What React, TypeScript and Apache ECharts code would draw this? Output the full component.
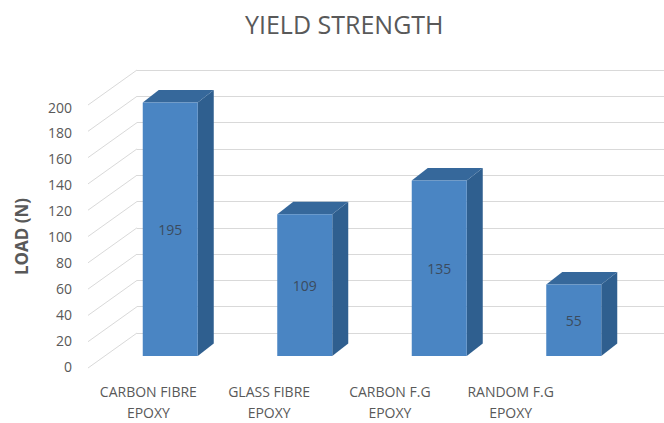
import React, { useEffect, useRef } from "react";
import * as echarts from "echarts";

const categories = ["CARBON FIBRE\nEPOXY", "GLASS FIBRE\nEPOXY", "CARBON F.G\nEPOXY", "RANDOM F.G\nEPOXY"];
const loads = [195, 109, 135, 55];
const yTicks = [0, 20, 40, 60, 80, 100, 120, 140, 160, 180, 200];

const FONT = "'Open Sans', 'Noto Sans', sans-serif";
const GRID_COLOR = "#d9d9d9";
const TEXT_COLOR = "#595959";

// depth of the side wall (front edge -> back wall)
const WALL_DX = 49;
const WALL_DY = -35;
// depth of each 3D bar
const BAR_DX = 16;
const BAR_DY = -12.5;
const BAR_W = 55;

export default function App() {
  const ref = useRef<HTMLDivElement>(null);

  useEffect(() => {
    if (!ref.current) return;
    const chart = echarts.init(ref.current, undefined, { renderer: "svg" });

    const option: echarts.EChartsOption = {
      animation: false,
      backgroundColor: "#ffffff",
      title: {
        text: "YIELD STRENGTH",
        left: 240,
        top: 6,
        textStyle: { fontFamily: FONT, fontSize: 25, fontWeight: "normal", color: TEXT_COLOR },
      },
      grid: [
        // front edge: tick labels and category labels
        { left: 88, width: 483, top: 107, height: 259 },
        // back wall
        { left: 137, right: 0, top: 70, height: 263 },
        // bar plane
        { left: 103, width: 538, top: 96, height: 260 },
      ],
      xAxis: [
        {
          gridIndex: 0,
          type: "category",
          data: categories,
          axisLine: { show: false },
          axisTick: { show: false },
          axisLabel: {
            interval: 0,
            hideOverlap: false,
            margin: 15,
            fontFamily: FONT,
            fontSize: 14,
            lineHeight: 21,
            color: TEXT_COLOR,
          },
        },
        { gridIndex: 1, type: "value", show: false, min: 0, max: 1 },
        { gridIndex: 2, type: "category", data: categories, show: false },
      ],
      yAxis: [
        {
          gridIndex: 0,
          type: "value",
          min: 0,
          max: 200,
          interval: 20,
          name: "LOAD (N)",
          nameLocation: "middle",
          nameGap: 58,
          nameTextStyle: { fontFamily: FONT, fontSize: 17, fontWeight: "bold", color: TEXT_COLOR },
          axisLine: { show: false },
          axisTick: { show: false },
          splitLine: { show: false },
          axisLabel: { margin: 16, fontFamily: FONT, fontSize: 14, color: TEXT_COLOR },
        },
        {
          gridIndex: 1,
          type: "value",
          min: 0,
          max: 200,
          interval: 20,
          axisLine: { show: false },
          axisTick: { show: false },
          axisLabel: { show: false },
          splitLine: { lineStyle: { color: GRID_COLOR, width: 1 } },
        },
        { gridIndex: 2, type: "value", min: 0, max: 200, show: false },
      ],
      series: [
        {
          // side wall diagonals, one per tick
          type: "custom",
          xAxisIndex: 1,
          yAxisIndex: 1,
          silent: true,
          data: yTicks.map((t) => [0, t]),
          renderItem: (params: any, api: any) => {
            const p = api.coord([0, api.value(1)]);
            const x1 = params.coordSys.x;
            return {
              type: "line",
              shape: { x1: x1 - WALL_DX, y1: p[1] - WALL_DY, x2: x1, y2: p[1] },
              style: { stroke: GRID_COLOR, lineWidth: 1 },
            };
          },
        },
        {
          // 3D bars
          type: "custom",
          xAxisIndex: 2,
          yAxisIndex: 2,
          data: loads.map((v, i) => [i, v]),
          renderItem: (_params: any, api: any) => {
            const top = api.coord([api.value(0), api.value(1)]);
            const base = api.coord([api.value(0), 0]);
            const x0 = top[0] - BAR_W / 2;
            const x1 = top[0] + BAR_W / 2;
            const yt = top[1];
            const yb = base[1];
            return {
              type: "group",
              children: [
                {
                  type: "polygon",
                  shape: {
                    points: [
                      [x1, yt],
                      [x1 + BAR_DX, yt + BAR_DY],
                      [x1 + BAR_DX, yb + BAR_DY],
                      [x1, yb],
                    ],
                  },
                  style: { fill: "#2f5f8f" },
                },
                {
                  type: "polygon",
                  shape: {
                    points: [
                      [x0, yt],
                      [x0 + BAR_DX, yt + BAR_DY],
                      [x1 + BAR_DX, yt + BAR_DY],
                      [x1, yt],
                    ],
                  },
                  style: { fill: "#36689b" },
                },
                {
                  type: "rect",
                  shape: { x: x0, y: yt, width: BAR_W, height: yb - yt },
                  style: { fill: "#4a85c3" },
                },
                {
                  type: "text",
                  x: top[0],
                  y: (yt + yb) / 2,
                  style: {
                    text: String(api.value(1)),
                    fill: "#3b4b5e",
                    fontFamily: FONT,
                    fontSize: 14,
                    align: "center",
                    verticalAlign: "middle",
                  },
                },
              ],
            };
          },
        },
      ],
    };

    chart.setOption(option);
    return () => chart.dispose();
  }, []);

  return (
    <div
      ref={ref}
      style={{ position: "fixed", left: 0, top: 0, width: 664, height: 423 }}
    />
  );
}
